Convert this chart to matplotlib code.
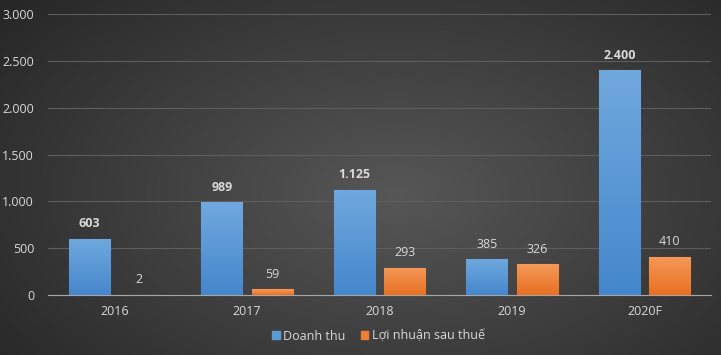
import numpy as np
import matplotlib.pyplot as plt
from matplotlib.patches import Rectangle

years = ['2016', '2017', '2018', '2019', '2020F']
doanh_thu = [603, 989, 1125, 385, 2400]
loi_nhuan = [2, 59, 293, 326, 410]
dt_labels = ['603', '989', '1.125', '385', '2.400']
ln_labels = ['2', '59', '293', '326', '410']
dt_bold = [True, True, True, False, True]
yticks = [0, 500, 1000, 1500, 2000, 2500, 3000]
ytick_labels = ['0', '500', '1.000', '1.500', '2.000', '2.500', '3.000']

plt.rcParams['font.family'] = ['Open Sans', 'DejaVu Sans']
txt = '#d9d9d9'

fig = plt.figure(figsize=(7.21, 3.55), dpi=100)

# background radial gradient
bg = fig.add_axes([0, 0, 1, 1], zorder=-10)
yy, xx = np.mgrid[0:1:200j, 0:1:400j]
d = np.sqrt(((xx - 0.55) / 0.75) ** 2 + ((yy - 0.45) / 0.9) ** 2)
v = np.clip(0.34 - 0.2 * d, 0.15, 0.35)
bg.imshow(np.dstack([v, v, v]), extent=[0, 1, 0, 1], aspect='auto', origin='lower')
bg.axis('off')

ax = fig.add_axes([48 / 721, 1 - 295 / 355, 663 / 721, 281 / 355])
ax.set_facecolor('none')
x = np.arange(len(years))
w = 0.31
off = 0.19


def grad_bars(xs, vals, top, bottom):
    bars = ax.bar(xs, vals, w, color=bottom, edgecolor=bottom, linewidth=0.8, zorder=3)
    cmap = np.linspace(0, 1, 100)[:, None]
    img = np.array(top)[None, None, :] * cmap[:, :, None] + np.array(bottom)[None, None, :] * (1 - cmap[:, :, None])
    for b in bars:
        bx, by = b.get_x(), b.get_y()
        bw, bh = b.get_width(), b.get_height()
        if bh < 20:
            continue
        im = ax.imshow(img, extent=[bx, bx + bw, by, by + bh], aspect='auto',
                       origin='lower', zorder=3.5)
        r = Rectangle((bx, by), bw, bh, transform=ax.transData, facecolor='none', edgecolor='none')
        ax.add_patch(r)
        im.set_clip_path(r)
    return bars


b1 = grad_bars(x - off, doanh_thu, (0.44, 0.66, 0.87), (0.27, 0.53, 0.80))
b2 = grad_bars(x + off, loi_nhuan, (0.96, 0.60, 0.35), (0.91, 0.44, 0.13))

for xi, v, lab, bd in zip(x, doanh_thu, dt_labels, dt_bold):
    ax.text(xi - off, v + 90, lab, ha='center', va='bottom', color=txt, fontsize=9,
            fontweight='bold' if bd else 'normal')
for xi, v, lab in zip(x, loi_nhuan, ln_labels):
    ax.text(xi + off, v + 90, lab, ha='center', va='bottom', color=txt, fontsize=9)

ax.set_xlim(-0.5, len(years) - 0.5)
ax.set_ylim(0, 3000)
ax.set_yticks(yticks)
ax.set_yticklabels(ytick_labels)
ax.set_xticks(x)
ax.set_xticklabels(years)
ax.tick_params(colors=txt, labelsize=9, length=0)
ax.tick_params(axis='y', pad=10)
ax.tick_params(axis='x', pad=7)
ax.grid(axis='y', color='#5e5e5e', linewidth=0.8, zorder=0)
ax.set_axisbelow(True)
for s in ['top', 'right', 'left']:
    ax.spines[s].set_visible(False)
ax.spines['bottom'].set_color('#a6a6a6')
ax.spines['bottom'].set_linewidth(0.8)
ax.spines['bottom'].set_zorder(2.5)

h1 = Rectangle((0, 0), 1, 1, color='#5b9bd5')
h2 = Rectangle((0, 0), 1, 1, color='#ed7d31')
fig.legend([h1, h2], ['Doanh thu', 'Lợi nhuận sau thuế'], loc='center',
           bbox_to_anchor=(0.525, 1 - 336 / 355), ncol=2, frameon=False,
           fontsize=9, labelcolor=txt, handlelength=0.6, handleheight=0.6,
           handletextpad=0.3, columnspacing=1.2)

fig.savefig('out.png', dpi=100)
